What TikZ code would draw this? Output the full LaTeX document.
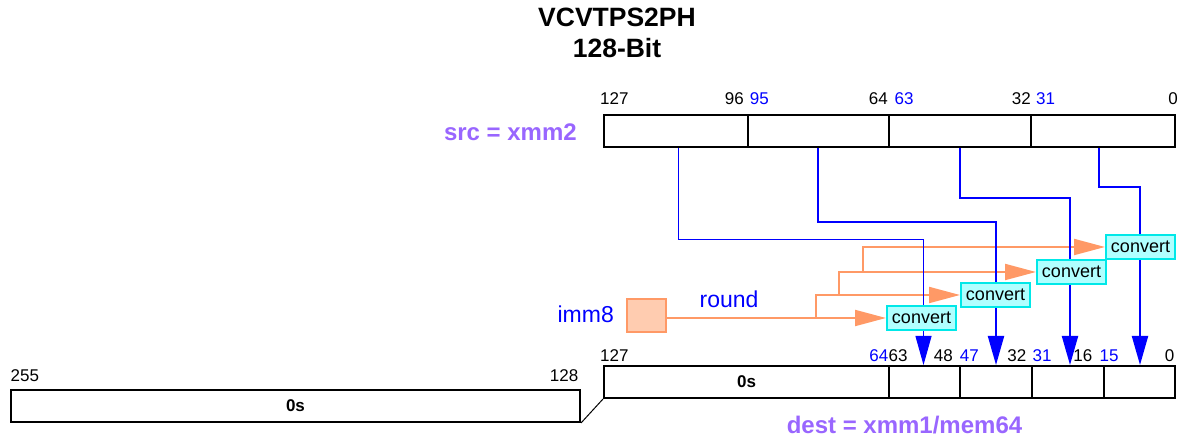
\documentclass[tikz,border=0pt]{standalone}
\usepackage{fontspec}
\setmainfont{Liberation Sans}
\usetikzlibrary{arrows.meta}
\definecolor{purp}{RGB}{153,102,255}
\definecolor{orng}{RGB}{255,153,102}
\definecolor{peach}{RGB}{255,204,176}
\definecolor{cyfill}{RGB}{176,255,255}
\definecolor{cyline}{RGB}{0,232,232}
\definecolor{bl}{RGB}{0,0,255}
\pgfdeclarelayer{bg}
\pgfsetlayers{bg,main}
\begin{document}
\begin{tikzpicture}[x=1pt,y=-1pt,
 seg/.style={draw=black,line width=2pt,inner sep=0pt,minimum height=32pt},
 lbl/.style={inner sep=0pt,font=\fontsize{17}{20}\selectfont},
 blbl/.style={lbl,text=bl},
 zero/.style={inner sep=0pt,font=\bfseries\fontsize{17}{20}\selectfont},
 conv/.style={draw=cyline,fill=cyfill,line width=2pt,inner sep=0pt,minimum width=69pt,minimum height=24pt,font=\fontsize{18}{21}\selectfont},
 bthick/.style={draw=bl,line width=2pt,-{Triangle[length=29pt,width=16pt]}},
 bthin/.style={draw=bl,line width=1pt,-{Triangle[length=29pt,width=16pt]}},
 orarrow/.style={draw=orng,line width=2pt,-{Triangle[length=31pt,width=16pt]}},
 regname/.style={inner sep=0pt,text=purp,font=\bfseries\fontsize{24}{28}\selectfont},
 bluetext/.style={inner sep=0pt,text=bl,font=\fontsize{23}{27}\selectfont},
]
\useasboundingbox (0,0) rectangle (1195,438);

% title
\node[inner sep=0pt,font=\bfseries\fontsize{26.5}{30}\selectfont,anchor=base] (t1) at (617,26.7) {VCVTPS2PH};
\node[inner sep=0pt,font=\bfseries\fontsize{26.5}{30}\selectfont,anchor=base] (t2) at (617,57.3) {128-Bit};

% source register
\node[seg,minimum width=144pt] (s3) at (676,131) {};
\node[seg,minimum width=141pt] (s2) at (818.5,131) {};
\node[seg,minimum width=142pt] (s1) at (960,131) {};
\node[seg,minimum width=144pt] (s0) at (1103,131) {};
\node[regname,anchor=base east] (srcname) at (577,140.7) {src = xmm2};

\node[lbl,anchor=base west] (sl127) at (600,105) {127};
\node[lbl,anchor=base east] (sl96) at (744,105) {96};
\node[blbl,anchor=base west] (sl95) at (749.6,105) {95};
\node[lbl,anchor=base east] (sl64) at (888,105) {64};
\node[blbl,anchor=base west] (sl63) at (894.5,105) {63};
\node[lbl,anchor=base east] (sl32) at (1031,105) {32};
\node[blbl,anchor=base west] (sl31) at (1036,105) {31};
\node[lbl,anchor=base east] (sl0) at (1178,105) {0};

% destination register
\node[seg,minimum width=285pt] (dz) at (746.5,382) {};
\node[zero] (dz0s) at (dz) {0s};
\node[seg,minimum width=71pt] (d3) at (924.5,382) {};
\node[seg,minimum width=72pt] (d2) at (996,382) {};
\node[seg,minimum width=72pt] (d1) at (1068,382) {};
\node[seg,minimum width=71pt] (d0) at (1139.5,382) {};
\node[regname,anchor=base] (destname) at (904.5,434) {dest = xmm1/mem64};

\node[lbl,anchor=base west] (dl127) at (600,361.7) {127};
\node[blbl,anchor=base east] (dl64) at (888.4,361.7) {64};
\node[lbl,anchor=base west] (dl63) at (888.4,361.7) {63};
\node[lbl,anchor=base east] (dl48) at (953,361.7) {48};
\node[blbl,anchor=base west] (dl47) at (959.6,361.7) {47};
\node[lbl,anchor=base east] (dl32) at (1026.5,361.7) {32};
\node[blbl,anchor=base west] (dl31) at (1032.4,361.7) {31};
\node[lbl,anchor=base east] (dl16) at (1092.5,361.7) {16};
\node[blbl,anchor=base west] (dl15) at (1099.4,361.7) {15};
\node[lbl,anchor=base east] (dl0) at (1174.5,361.7) {0};

% upper half of destination
\node[seg,minimum width=569pt] (u) at (295.5,406) {};
\node[zero] (u0s) at (u) {0s};
\node[lbl,anchor=base west] (ul255) at (10.5,381.7) {255};
\node[lbl,anchor=base east] (ul128) at (578.5,381.7) {128};
\draw[line width=1pt] (u.south east) -- (dz.south west);

% imm8
\node[bluetext,anchor=base east] (immlbl) at (614,322.7) {imm8};
\node[draw=orng,fill=peach,line width=2pt,inner sep=0pt,minimum width=39pt,minimum height=33pt] (imm) at (646.5,315.5) {};
\node[bluetext,anchor=base west] (roundlbl) at (699.5,307.3) {round};

% convert boxes
\node[conv] (c1) at (921.5,318) {convert};
\node[conv] (c2) at (995.5,295) {convert};
\node[conv] (c3) at (1071.5,272) {convert};
\node[conv] (c4) at (1140.5,247) {convert};

\begin{pgfonlayer}{bg}
% orange control arrows
\coordinate (j1) at (816,0);
\coordinate (j2) at (839,0);
\coordinate (j3) at (863,0);
\draw[orarrow] (imm.east |- c1.west) -- (c1.west);
\draw[orarrow] (j1 |- c1.west) |- (c2.west);
\draw[orarrow] (j2 |- c2.west) |- (c3.west);
\draw[orarrow] (j3 |- c3.west) |- (c4.west);

% blue data paths
\coordinate (h1) at (0,239.5);
\coordinate (h2) at (0,222);
\coordinate (h3) at (0,198);
\coordinate (h4) at (0,187);
\draw[bthin] ([xshift=2.5pt]s3.south) |- ([xshift=-1pt]d3.north |- h1) -- ([xshift=-1pt]d3.north);
\draw[bthick] ([xshift=-0.5pt]s2.south) |- (d2.north |- h2) -- (d2.north);
\draw[bthick] (s1.south) |- ([xshift=2pt]d1.north |- h3) -- ([xshift=2pt]d1.north);
\draw[bthick] ([xshift=-4pt]s0.south) |- ([xshift=0.5pt]d0.north |- h4) -- ([xshift=0.5pt]d0.north);
\end{pgfonlayer}
\end{tikzpicture}
\end{document}
